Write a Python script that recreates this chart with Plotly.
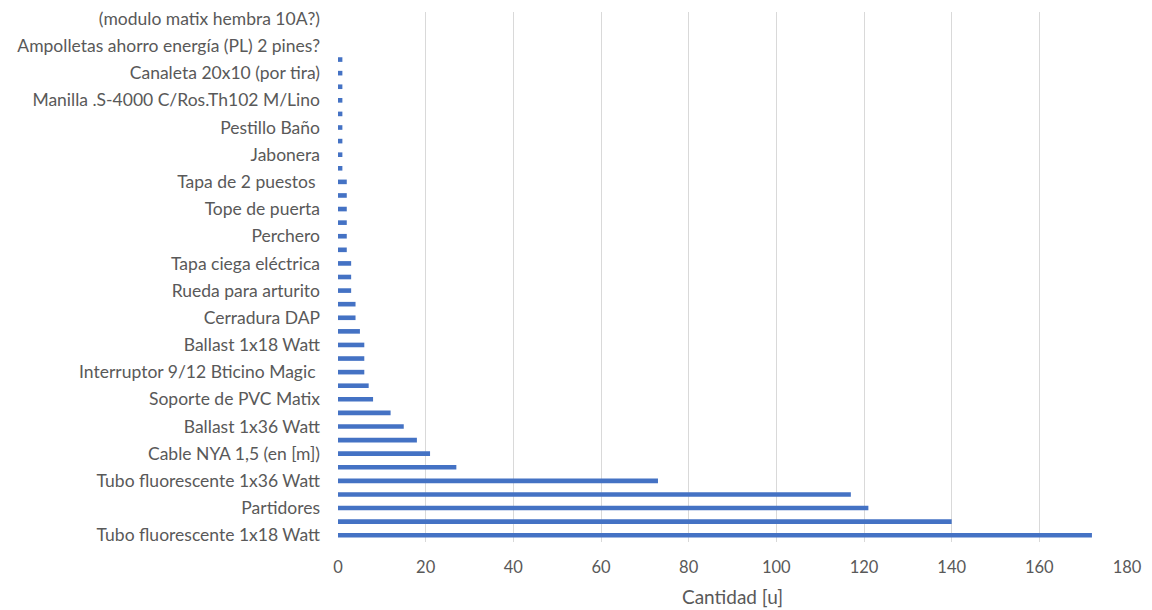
import plotly.graph_objects as go

# values per category, from bottom (index 0) to top (index 38)
values = [172, 140, 121, 117, 73, 27, 21, 18, 15, 12,
          8, 7, 6, 6, 6, 5, 4, 4, 3, 3,
          3, 2, 2, 2, 2, 2, 2, 1, 1, 1,
          1, 1, 1, 1, 1, 1, 0, 0, 0]

# only every second category label is shown on the axis
shown_labels = [
    "Tubo fluorescente 1x18 Watt",
    "Partidores",
    "Tubo fluorescente 1x36 Watt",
    "Cable NYA 1,5 (en [m])",
    "Ballast 1x36 Watt",
    "Soporte de PVC Matix",
    "Interruptor 9/12 Bticino Magic ",
    "Ballast 1x18 Watt",
    "Cerradura DAP",
    "Rueda para arturito",
    "Tapa ciega eléctrica",
    "Perchero",
    "Tope de puerta",
    "Tapa de 2 puestos ",
    "Jabonera",
    "Pestillo Baño",
    "Manilla .S-4000 C/Ros.Th102 M/Lino",
    "Canaleta 20x10 (por tira)",
    "Ampolletas ahorro energía (PL) 2 pines?",
    "(modulo matix hembra 10A?)",
]

x_ticks = [0, 20, 40, 60, 80, 100, 120, 140, 160, 180]
x_title = "Cantidad [u]"

positions = list(range(len(values)))
label_positions = positions[::2]

font_family = "Lato, 'Open Sans', sans-serif"
text_color = "#595959"

fig = go.Figure(go.Bar(
    x=values,
    y=positions,
    orientation="h",
    marker=dict(color="#4472C4", line=dict(width=0)),
    width=0.34,
    hoverinfo="x",
))

fig.update_layout(
    width=1152,
    height=610,
    margin=dict(l=338, r=25, t=12, b=68),
    paper_bgcolor="white",
    plot_bgcolor="white",
    showlegend=False,
    font=dict(family=font_family, size=17, color=text_color),
)

fig.update_xaxes(
    range=[0, 180],
    tickvals=x_ticks,
    showgrid=True,
    gridcolor="#D9D9D9",
    gridwidth=1.3,
    zeroline=False,
    showline=False,
    ticks="",
    automargin=False,
    ticklabelstandoff=13,
    tickfont=dict(size=16.5, color=text_color),
    title=dict(text=x_title, font=dict(size=19, color=text_color), standoff=15),
)

fig.update_yaxes(
    range=[-0.5, len(values) - 0.5],
    tickvals=label_positions,
    ticktext=shown_labels,
    showgrid=False,
    zeroline=False,
    showline=False,
    ticks="",
    automargin=False,
    ticklabelstandoff=17,
    tickfont=dict(size=17.5, color=text_color),
)

fig.write_html("out.html")
